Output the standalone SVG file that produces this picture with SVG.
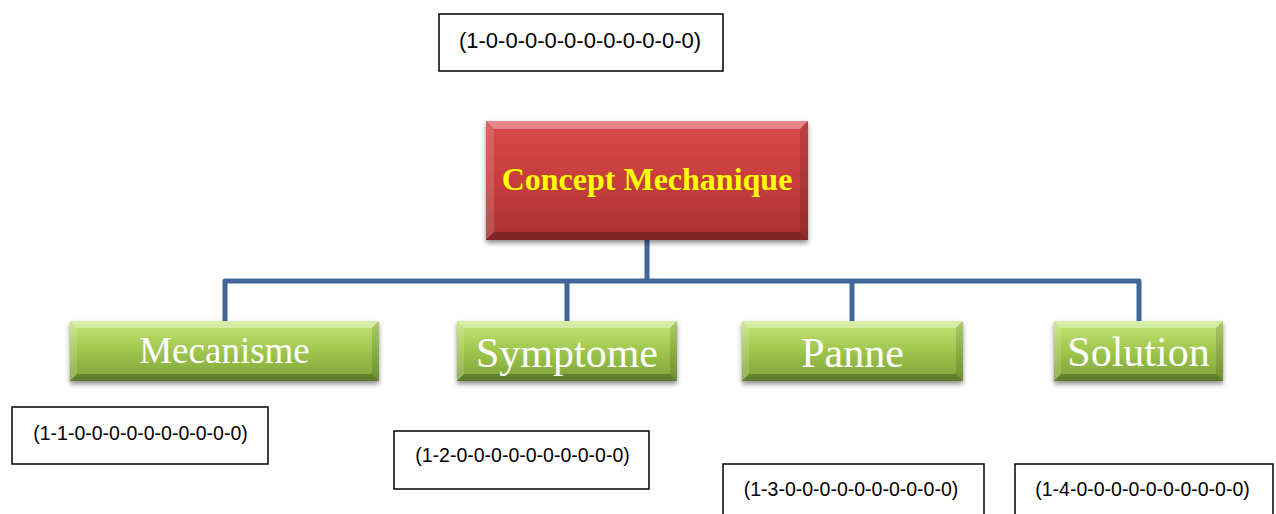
<svg xmlns="http://www.w3.org/2000/svg" width="1276" height="514" viewBox="0 0 1276 514">
  <style>
    .label-box { fill: #ffffff; stroke: #000000; stroke-width: 1.5; }
    .code { font-family: "Liberation Sans", Arial, sans-serif; fill: #000000; text-anchor: middle; }
    .code-top { font-size: 22px; }
    .code-sub { font-size: 19.5px; }
    .bev-hi { fill: #ffffff; opacity: 0.35; }
    .bev-lt { fill: #ffffff; opacity: 0.15; }
    .bev-dk { fill: #000000; opacity: 0.12; }
    .bev-lo { fill: #000000; opacity: 0.25; }
    .child-text { font-family: "Liberation Serif", "Times New Roman", serif; fill: #ffffff; text-anchor: middle; font-size: 42px; }
    .root-text { font-family: "Liberation Serif", "Times New Roman", serif; fill: #ffff00; font-weight: bold; text-anchor: middle; font-size: 32px; }
    .connector { fill: none; stroke: #41679a; stroke-width: 5; stroke-linejoin: round; stroke-linecap: butt; }
  </style>
  <defs>
    <linearGradient id="redFill" x1="0" y1="0" x2="0" y2="1">
      <stop offset="0" stop-color="#da4848"/>
      <stop offset="0.5" stop-color="#c73d3d"/>
      <stop offset="1" stop-color="#a83131"/>
    </linearGradient>
    <linearGradient id="greenFill" x1="0" y1="0" x2="0" y2="1">
      <stop offset="0" stop-color="#c4e679"/>
      <stop offset="0.5" stop-color="#9fc64c"/>
      <stop offset="1" stop-color="#7da33a"/>
    </linearGradient>
    <filter id="shadow" x="-10%" y="-20%" width="120%" height="150%">
      <feDropShadow dx="0" dy="3" stdDeviation="2.5" flood-color="#000000" flood-opacity="0.45"/>
    </filter>
  </defs>

  <rect width="1276" height="514" fill="#ffffff"/>

  <!-- connectors -->
  <g id="connectors">
    <path class="connector" d="M647 240 V281"/>
    <path class="connector" d="M225 321 V281 H1139 V321"/>
    <path class="connector" d="M567 281 V321"/>
    <path class="connector" d="M852 281 V321"/>
  </g>

  <!-- root node -->
  <g id="node-root">
    <rect x="486" y="121" width="322" height="119" fill="url(#redFill)" filter="url(#shadow)"/>
    <polygon class="bev-hi" points="486,121 808,121 800,129 494,129"/>
    <polygon class="bev-lt" points="486,121 494,129 494,232 486,240"/>
    <polygon class="bev-dk" points="808,121 808,240 800,232 800,129"/>
    <polygon class="bev-lo" points="486,240 494,232 800,232 808,240"/>
    <text class="root-text" x="647" y="190">Concept Mechanique</text>
  </g>

  <!-- child nodes -->
  <g id="node-mecanisme">
    <rect x="70" y="321" width="309" height="60" fill="url(#greenFill)" filter="url(#shadow)"/>
    <polygon class="bev-hi" points="70,321 379,321 372,328 77,328"/>
    <polygon class="bev-lt" points="70,321 77,328 77,374 70,381"/>
    <polygon class="bev-dk" points="379,321 379,381 372,374 372,328"/>
    <polygon class="bev-lo" points="70,381 77,374 372,374 379,381"/>
    <text class="child-text" x="224.5" y="363" style="font-size:37px">Mecanisme</text>
  </g>

  <g id="node-symptome">
    <rect x="457" y="321" width="220" height="60" fill="url(#greenFill)" filter="url(#shadow)"/>
    <polygon class="bev-hi" points="457,321 677,321 670,328 464,328"/>
    <polygon class="bev-lt" points="457,321 464,328 464,374 457,381"/>
    <polygon class="bev-dk" points="677,321 677,381 670,374 670,328"/>
    <polygon class="bev-lo" points="457,381 464,374 670,374 677,381"/>
    <text class="child-text" x="567" y="367">Symptome</text>
  </g>

  <g id="node-panne">
    <rect x="742" y="321" width="221" height="60" fill="url(#greenFill)" filter="url(#shadow)"/>
    <polygon class="bev-hi" points="742,321 963,321 956,328 749,328"/>
    <polygon class="bev-lt" points="742,321 749,328 749,374 742,381"/>
    <polygon class="bev-dk" points="963,321 963,381 956,374 956,328"/>
    <polygon class="bev-lo" points="742,381 749,374 956,374 963,381"/>
    <text class="child-text" x="852.5" y="367">Panne</text>
  </g>

  <g id="node-solution">
    <rect x="1054" y="321" width="169" height="60" fill="url(#greenFill)" filter="url(#shadow)"/>
    <polygon class="bev-hi" points="1054,321 1223,321 1216,328 1061,328"/>
    <polygon class="bev-lt" points="1054,321 1061,328 1061,374 1054,381"/>
    <polygon class="bev-dk" points="1223,321 1223,381 1216,374 1216,328"/>
    <polygon class="bev-lo" points="1054,381 1061,374 1216,374 1223,381"/>
    <text class="child-text" x="1138.5" y="366">Solution</text>
  </g>

  <!-- code labels -->
  <g id="code-root">
    <rect class="label-box" x="439" y="14" width="284" height="57"/>
    <text class="code code-top" x="580" y="48">(1-0-0-0-0-0-0-0-0-0-0-0)</text>
  </g>
  <g id="code-mecanisme">
    <rect class="label-box" x="12" y="407" width="256" height="57"/>
    <text class="code code-sub" x="140.5" y="440">(1-1-0-0-0-0-0-0-0-0-0-0)</text>
  </g>
  <g id="code-symptome">
    <rect class="label-box" x="394" y="431" width="255" height="58"/>
    <text class="code code-sub" x="522.5" y="462">(1-2-0-0-0-0-0-0-0-0-0-0)</text>
  </g>
  <g id="code-panne">
    <rect class="label-box" x="723" y="464" width="261" height="60"/>
    <text class="code code-sub" x="851" y="496">(1-3-0-0-0-0-0-0-0-0-0-0)</text>
  </g>
  <g id="code-solution">
    <rect class="label-box" x="1015" y="464" width="258" height="60"/>
    <text class="code code-sub" x="1142.5" y="496">(1-4-0-0-0-0-0-0-0-0-0-0)</text>
  </g>
</svg>
